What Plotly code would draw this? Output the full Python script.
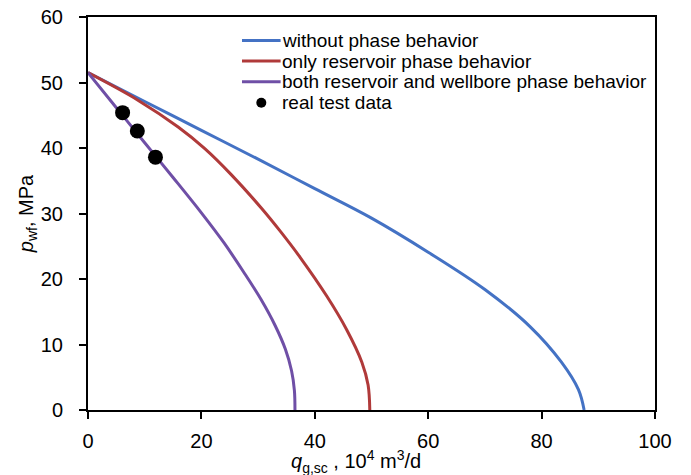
import plotly.graph_objects as go

# Series data (q in 10^4 m3/d, p in MPa)
blue_q = [0, 10, 20, 30, 40, 50, 60, 70, 78, 83.5, 86.5, 87.5]
blue_p = [51.5, 47.1, 42.7, 38.3, 33.8, 29.3, 24.1, 18.4, 12.7, 7.3, 3.1, 0]

red_q = [0, 8.8, 15.9, 20.6, 25.3, 30.6, 33.9, 37.5, 42.1, 45.6, 48.3, 49.4, 49.7]
red_p = [51.5, 47.3, 43.2, 39.9, 35.9, 30.8, 27.3, 23.2, 17.4, 12.3, 7.3, 3.8, 0]

purple_q = [0, 5, 10, 15, 20, 24, 27.5, 30.5, 33, 34.8, 35.9, 36.4, 36.5]
purple_p = [51.5, 46.15, 40.8, 35.5, 30.1, 25.5, 21.0, 16.9, 12.9, 9.3, 6.0, 3.0, 0]

test_q = [6.1, 8.7, 11.9]
test_p = [45.4, 42.6, 38.6]

x_ticks = [0, 20, 40, 60, 80, 100]
y_ticks = [0, 10, 20, 30, 40, 50, 60]

names = ["without phase behavior", "only reservoir phase behavior",
         "both reservoir and wellbore phase behavior", "real test data"]
colors = ["#4472C4", "#B03A3A", "#6F4FA6", "black"]

FONT = "Liberation Sans, Arial, sans-serif"

fig = go.Figure()
for q, p, name, col in [(blue_q, blue_p, names[0], colors[0]),
                        (red_q, red_p, names[1], colors[1]),
                        (purple_q, purple_p, names[2], colors[2])]:
    fig.add_trace(go.Scatter(x=q, y=p, mode="lines", name=name,
                             line=dict(color=col, width=3, shape="spline", smoothing=1)))
fig.add_trace(go.Scatter(x=test_q, y=test_p, mode="markers", name=names[3],
                         marker=dict(color="black", size=15)))

# Manual legend (compact spacing like the reference)
leg_y = [0.940, 0.888, 0.835, 0.782]
x_line0, x_line1, x_text = 0.2716, 0.3397, 0.338
plot_w, plot_h = 567, 393
for i, (name, col) in enumerate(zip(names, colors)):
    if i < 3:
        fig.add_shape(type="line", xref="paper", yref="paper",
                      x0=x_line0, x1=x_line1, y0=leg_y[i], y1=leg_y[i],
                      line=dict(color=col, width=3))
    else:
        cx = (x_line0 + x_line1) / 2
        rx, ry = 5 / plot_w, 5 / plot_h
        fig.add_shape(type="circle", xref="paper", yref="paper",
                      x0=cx - rx, x1=cx + rx, y0=leg_y[i] - ry, y1=leg_y[i] + ry,
                      fillcolor="black", line=dict(color="black", width=0))
    fig.add_annotation(text=name, xref="paper", yref="paper", x=x_text, y=leg_y[i],
                       xanchor="left", yanchor="middle", showarrow=False,
                       font=dict(size=19, family=FONT, color="black"))

# x-axis title as annotation (centred slightly left of plot centre, like reference)
fig.add_annotation(text="<i>q</i><sub>g,sc</sub> , 10<sup>4</sup> m<sup>3</sup>/d",
                   xref="paper", yref="paper", x=0.4727, y=-0.131,
                   xanchor="center", yanchor="middle", showarrow=False,
                   font=dict(size=20, family=FONT, color="black"))

fig.update_layout(
    width=691, height=475,
    margin=dict(l=88, r=36, t=17, b=65, autoexpand=False),
    paper_bgcolor="white", plot_bgcolor="white",
    font=dict(family=FONT, size=20, color="black"),
    showlegend=False,
    xaxis=dict(range=[0, 100], tickvals=x_ticks, ticks="outside", ticklen=7,
               tickwidth=2, tickcolor="black", showline=True, linewidth=2,
               linecolor="black", mirror=True, showgrid=False, zeroline=False,
               ticklabelstandoff=5, automargin=False),
    yaxis=dict(range=[0, 60], tickvals=y_ticks, ticks="outside", ticklen=7,
               tickwidth=2, tickcolor="black", showline=True, linewidth=2,
               linecolor="black", mirror=True, showgrid=False, zeroline=False,
               ticklabelstandoff=12, automargin=False,
               title=dict(text="<i>p</i><sub>wf</sub>, MPa", standoff=2,
                          font=dict(size=20))),
)

fig.write_html("out.html")
